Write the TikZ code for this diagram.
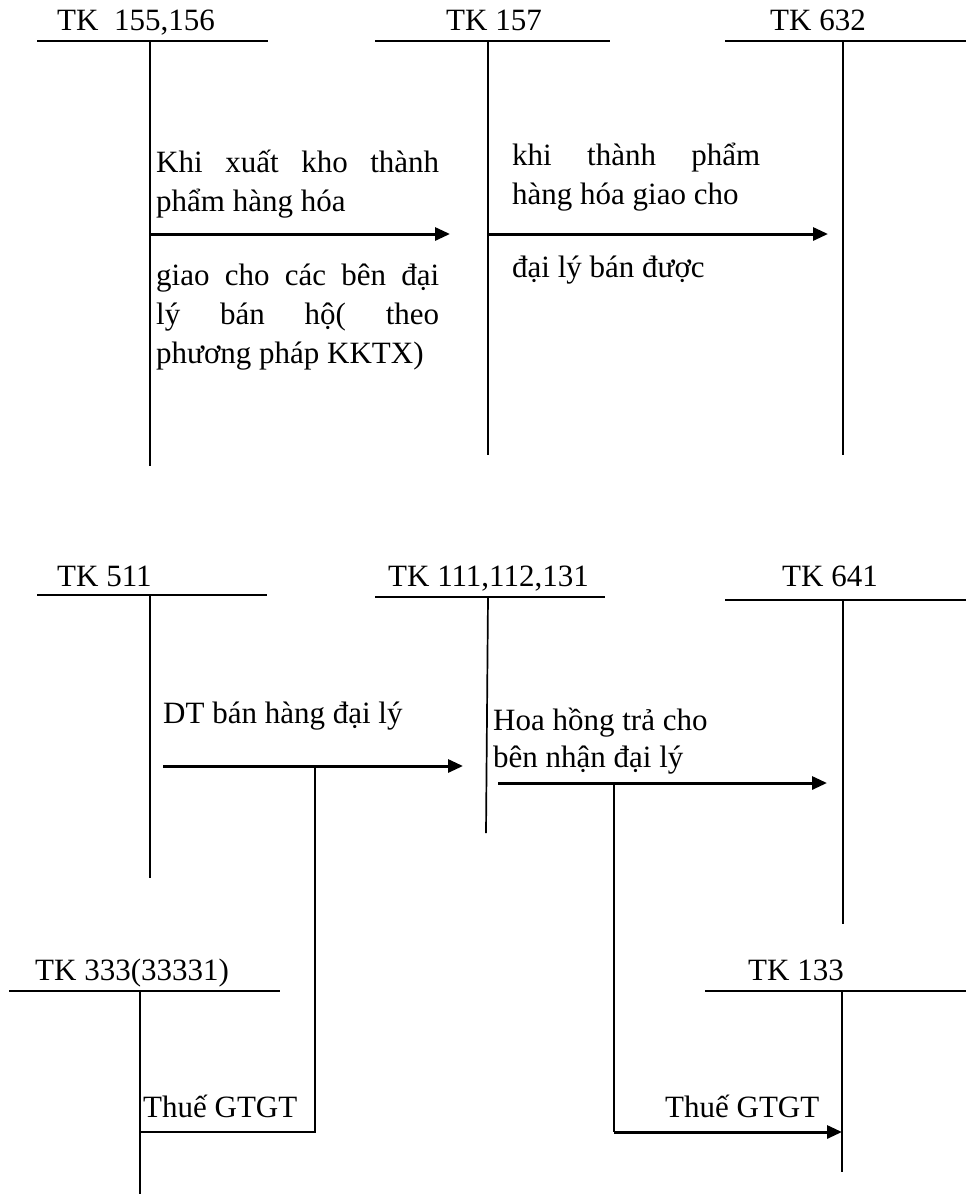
\documentclass[tikz,border=0pt]{standalone}
\usepackage{fontspec}
\setmainfont{Liberation Serif}
\usetikzlibrary{arrows.meta}
\tolerance=10000
\hbadness=10000
\hyphenpenalty=10000
\tikzset{acct/.style={inner sep=0pt, anchor=base west}}
\tikzset{tline/.style={line width=2.6pt}}
\tikzset{stem/.style={line width=1.7pt}}
\tikzset{flow/.style={line width=3pt, -{Triangle[length=15pt,width=13pt]}}}
\tikzset{note/.style={inner sep=0pt, anchor=base west, align=justify}}

\begin{document}
\begin{tikzpicture}[x=1pt,y=-1pt,font=\fontsize{31}{39}\selectfont]
		\useasboundingbox (0,0) rectangle (966,1194);
		% top row
		\node[acct] (tk155) at (57,30) {TK~~155,156};
		\draw[tline] (37,41) -- (268,41);
		\draw[stem] (150,41) -- (150,466);
		\node[acct] (tk157) at (446,30) {TK 157};
		\draw[tline] (375,41) -- (610,41);
		\draw[stem] (488,41) -- (488,455);
		\node[acct] (tk632) at (770,30) {TK 632};
		\draw[tline] (725,41) -- (966,41);
		\draw[stem] (843,41) -- (843,455);
		\coordinate (p1) at (150,234);
		\coordinate (q1) at (450,234);
		\coordinate (p2) at (488,234);
		\coordinate (q2) at (828,234);
		\draw[flow] (p1) -- (q1);
		\draw[flow] (p2) -- (q2);
		\node[note, text width=283pt] (xuat) at (156,172) {Khi xuất kho thành\linebreak phẩm hàng hóa};
		\node[note, text width=283pt] (giao) at (156,285) {giao cho các bên đại\linebreak lý bán hộ( theo\linebreak phương pháp KKTX)};
		\node[note, text width=248pt] (khi) at (512,165) {khi thành phẩm\linebreak hàng hóa giao cho};
		\node[acct] (ban) at (512,277) {đại lý bán được};
		% middle row
		\node[acct] (tk511) at (57,586) {TK 511};
		\draw[tline] (37,595) -- (267,595);
		\draw[stem] (150,595) -- (150,878);
		\node[acct] (tk111) at (388,586) {TK 111,112,131};
		\draw[tline] (375,597) -- (605,597);
		\draw[stem] (488,597) -- (486,833);
		\node[acct] (tk641) at (782,586) {TK 641};
		\draw[tline] (725,600) -- (966,600);
		\draw[stem] (843,600) -- (843,924);
		\coordinate (p3) at (163,766);
		\coordinate (q3) at (463,766);
		\coordinate (p4) at (498,783);
		\coordinate (q4) at (827,783);
		\draw[flow] (p3) -- (q3);
		\draw[flow] (p4) -- (q4);
		\node[acct] (dt) at (163,723) {DT bán hàng đại lý};
		\node[acct, align=left] (hoa) at (493,767) {Hoa hồng trả cho\\[-2pt]bên nhận đại lý};
		% bottom row
		\node[acct] (tk333) at (35,980) {TK 333(33331)};
		\draw[tline] (9,991) -- (280,991);
		\draw[stem] (140,991) -- (140,1194);
		\node[acct] (tk133) at (748,980) {TK 133};
		\draw[tline] (705,991) -- (966,991);
		\draw[stem] (842,991) -- (842,1172);
		\coordinate (d3) at (315,766);
		\coordinate (e3) at (140,1132);
		\coordinate (d4) at (614,783);
		\coordinate (e4) at (842,1132);
		\draw[stem] (d3) |- (e3);
		\draw[stem] (d4) -- (d4 |- e4);
		\draw[flow] (d4 |- e4) -- (e4);
		\node[acct] (vat1) at (143,1117) {Thuế GTGT};
		\node[acct] (vat2) at (665,1117) {Thuế GTGT};
\end{tikzpicture}
\end{document}
